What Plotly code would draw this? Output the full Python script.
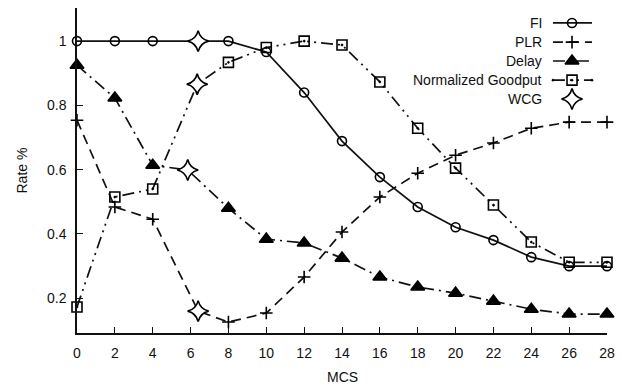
import plotly.graph_objects as go

# ---- data ----
mcs = [0, 2, 4, 6, 8, 10, 12, 14, 16, 18, 20, 22, 24, 26, 28]
fi = [1.0, 1.0, 1.0, 1.0, 1.0, 0.966, 0.84, 0.689, 0.577, 0.484, 0.421, 0.381, 0.328, 0.30, 0.30]
plr = [0.754, 0.484, 0.446, 0.16, 0.126, 0.154, 0.266, 0.406, 0.515, 0.589, 0.645, 0.683, 0.729, 0.748, 0.748]
delay = [0.925, 0.823, 0.614, 0.599, 0.48, 0.384, 0.372, 0.325, 0.266, 0.235, 0.216, 0.191, 0.166, 0.151, 0.151]
goodput = [0.173, 0.515, 0.54, 0.866, 0.934, 0.98, 1.0, 0.988, 0.873, 0.729, 0.605, 0.49, 0.375, 0.312, 0.312]

# WCG points (drawn at MCS 6 on each curve)
wcg_mcs = [6.4, 6.35, 5.85, 6.4]
wcg_val = [1.0, 0.866, 0.599, 0.16]
wcg_series = ["FI", "Normalized Goodput", "Delay", "PLR"]

series_names = ["FI", "PLR", "Delay", "Normalized Goodput"]
series_vals = [fi, plr, delay, goodput]
x_ticks = list(range(0, 29, 2))
y_ticks = [0.2, 0.4, 0.6, 0.8, 1.0]
y_ticklabels = ["0.2", "0.4", "0.6", "0.8", "1"]

# ---- styles ----
styles = {
    "FI": dict(symbol="circle-open", size=9, dash="solid"),
    "PLR": dict(symbol="cross-thin-open", size=9, dash="10px,6px"),
    "Delay": dict(symbol="triangle-up", size=12, dash="12px,5px,2px,5px"),
    "Normalized Goodput": dict(symbol="square-open-dot", size=10, dash="12px,5px,2px,5px,2px,5px"),
}
FONT = "Liberation Sans, Arial, sans-serif"
INK = "#111111"
STAR_SIZE = 15

fig = go.Figure()
idx6 = mcs.index(6)
for name, vals in zip(series_names, series_vals):
    st = styles[name]
    xs = list(mcs)
    ys = list(vals)
    k = wcg_series.index(name)
    xs[idx6] = wcg_mcs[k]
    ys[idx6] = wcg_val[k]
    sizes = [st["size"]] * len(xs)
    sizes[idx6] = 0
    fig.add_trace(go.Scatter(
        x=xs, y=ys, mode="lines+markers", name=name, showlegend=False,
        line=dict(color=INK, width=1.7, dash=st["dash"]),
        marker=dict(symbol=st["symbol"], size=sizes, color="black", opacity=1,
                    line=dict(color="black", width=1.6)),
        cliponaxis=False,
    ))

fig.add_trace(go.Scatter(
    x=wcg_mcs, y=wcg_val, mode="markers", name="WCG", showlegend=False,
    marker=dict(symbol="star-diamond", size=STAR_SIZE, color="white", opacity=1,
                line=dict(color="black", width=1.6)),
    cliponaxis=False,
))

# ---- hand-made legend (text right, sample on the right) ----
leg_rows = [0.954, 0.895, 0.837, 0.778, 0.720]
leg_names = series_names + ["WCG"]
lx0, lx1, lxm = 0.898, 0.9717, 0.934
for name, yy in zip(leg_names, leg_rows):
    fig.add_annotation(xref="paper", yref="paper", x=0.881, y=yy, text=name,
                       showarrow=False, xanchor="right", yanchor="middle",
                       font=dict(family=FONT, size=14, color=INK))
    if name == "WCG":
        fig.add_trace(go.Scatter(
            x=[lxm], y=[yy], xaxis="x2", yaxis="y2", mode="markers", showlegend=False,
            marker=dict(symbol="star-diamond", size=STAR_SIZE, color="white", opacity=1,
                        line=dict(color="black", width=1.6)), cliponaxis=False))
    else:
        st = styles[name]
        fig.add_trace(go.Scatter(
            x=[lx0, lxm, lx1], y=[yy, yy, yy], xaxis="x2", yaxis="y2",
            mode="lines+markers", showlegend=False,
            line=dict(color=INK, width=1.7, dash=st["dash"]),
            marker=dict(symbol=st["symbol"], size=[0, st["size"], 0], color="black",
                        opacity=1, line=dict(color="black", width=1.6)),
            cliponaxis=False))

fig.update_layout(
    width=622, height=385,
    margin=dict(l=77, r=15, t=8, b=52),
    paper_bgcolor="white", plot_bgcolor="white",
    font=dict(family=FONT, size=14, color=INK),
    xaxis=dict(range=[0, 28], tickvals=x_ticks, ticks="inside", ticklen=6,
               tickwidth=1.3, tickcolor=INK, showline=True, linecolor=INK,
               linewidth=1.5, showgrid=False, zeroline=False,
               ticklabelstandoff=6, tickfont=dict(size=14)),
    yaxis=dict(range=[0.092, 1.103], tickvals=y_ticks, ticktext=y_ticklabels,
               ticks="inside", ticklen=6, tickwidth=1.3, tickcolor=INK,
               showline=True, linecolor=INK, linewidth=1.5, showgrid=False,
               zeroline=False, ticklabelstandoff=6, tickfont=dict(size=14)),
    xaxis2=dict(overlaying="x", range=[0, 1], visible=False),
    yaxis2=dict(overlaying="y", range=[0, 1], visible=False),
    showlegend=False,
    hovermode=False,
)
fig.add_annotation(xref="paper", yref="paper", x=0.5, y=0, yshift=-44,
                   text="MCS", showarrow=False, xanchor="center", yanchor="middle",
                   font=dict(family=FONT, size=14, color=INK))
fig.add_annotation(xref="paper", yref="paper", x=0, y=0.5, xshift=-56,
                   text="Rate %", showarrow=False, textangle=-90,
                   xanchor="center", yanchor="middle",
                   font=dict(family=FONT, size=14, color=INK))

fig.write_html("out.html", config={"displayModeBar": False},
               post_script="document.body.style.margin='0';document.body.style.overflow='hidden';")
